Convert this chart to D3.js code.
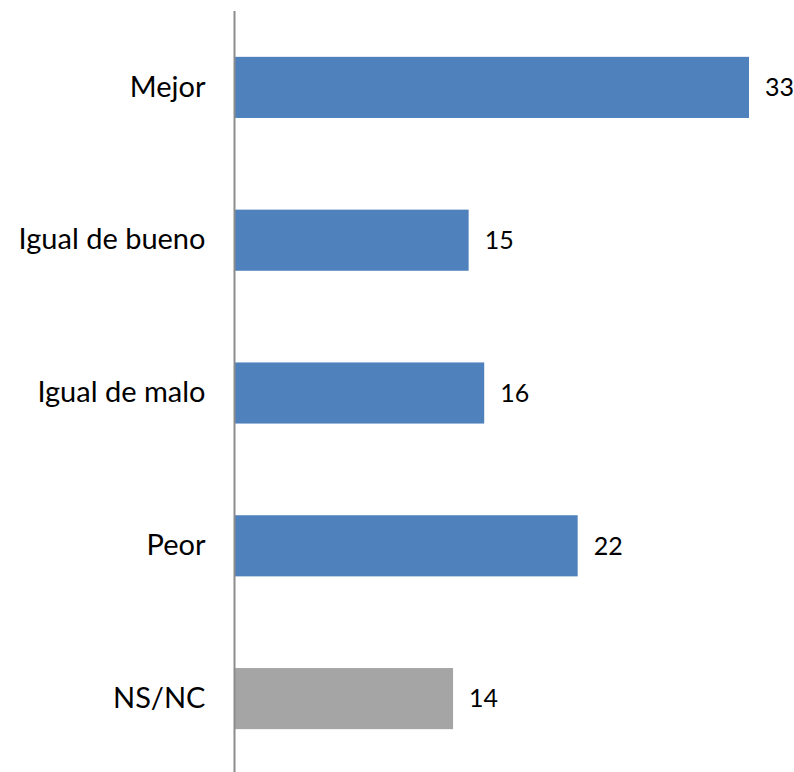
<!DOCTYPE html>
<html>
<head>
<meta charset="utf-8">
<script src="https://cdn.jsdelivr.net/npm/d3@7"></script>
<style>
  body { margin: 0; background: #fff; }
  svg { display: block; }
</style>
</head>
<body>
<div id="vis"></div>
<script>
var categories = ["Mejor", "Igual de bueno", "Igual de malo", "Peor", "NS/NC"];
var values = [33, 15, 16, 22, 14];
var barColors = ["#4F81BD", "#4F81BD", "#4F81BD", "#4F81BD", "#A5A5A5"];

var data = categories.map(function(c, i) { return {cat: c, value: values[i], color: barColors[i]}; });

var W = 794, H = 772;
var margin = {top: 11, right: 45, bottom: 0, left: 235};

var svg = d3.select("#vis").append("svg")
  .attr("width", W)
  .attr("height", H);

var x = d3.scaleLinear()
  .domain([0, 33])
  .range([margin.left, 749]);

var y = d3.scaleBand()
  .domain(categories)
  .range([margin.top, 775])
  .paddingInner(0.6)
  .paddingOuter(0.3);

// bars
svg.append("g")
  .selectAll("rect")
  .data(data)
  .enter().append("rect")
  .attr("x", x(0))
  .attr("y", function(d) { return y(d.cat); })
  .attr("width", function(d) { return x(d.value) - x(0); })
  .attr("height", y.bandwidth())
  .attr("fill", function(d) { return d.color; });

// value labels
svg.append("g")
  .selectAll("text")
  .data(data)
  .enter().append("text")
  .attr("x", function(d) { return x(d.value) + 16; })
  .attr("y", function(d) { return y(d.cat) + y.bandwidth() / 2; })
  .attr("dy", "0.35em")
  .attr("font-family", "Lato, sans-serif")
  .attr("font-size", 25)
  .attr("fill", "#000")
  .text(function(d) { return d.value; });

// category axis
var axis = svg.append("g")
  .attr("transform", "translate(" + (margin.left - 0.5) + ",0)")
  .call(d3.axisLeft(y).tickSize(0).tickPadding(29));

axis.select(".domain").remove();
axis.append("line")
  .attr("x1", 0).attr("x2", 0)
  .attr("y1", margin.top).attr("y2", H)
  .attr("stroke", "#8c8c8c")
  .attr("stroke-width", 2);

axis.selectAll(".tick text")
  .attr("font-family", "Lato, sans-serif")
  .attr("font-size", 29)
  .attr("fill", "#000");
</script>
</body>
</html>
